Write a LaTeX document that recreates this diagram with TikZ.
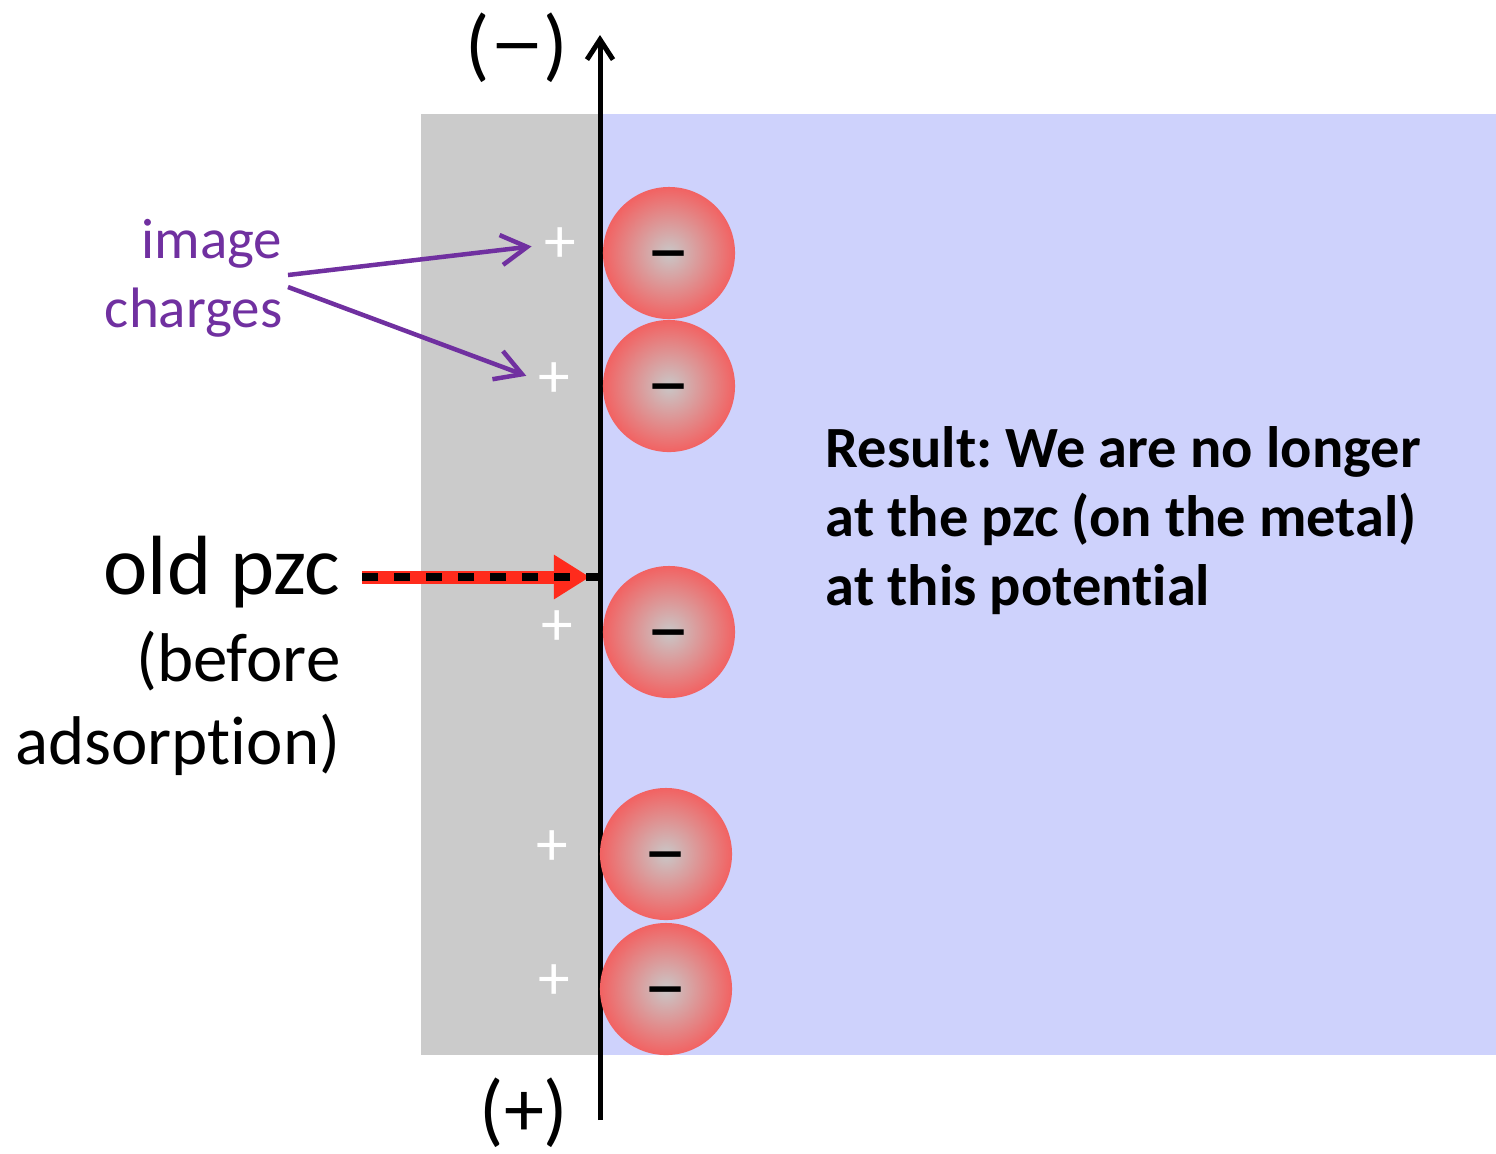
\documentclass[tikz,border=0pt]{standalone}
\usepackage{fontspec}
\setmainfont[Ligatures={NoCommon,NoRare,NoContextual}, Contextuals=NoAlternate]{Carlito}
\frenchspacing
\usetikzlibrary{arrows.meta}
\definecolor{metal}{HTML}{CBCBCB}
\definecolor{sol}{HTML}{CED2FC}
\definecolor{viola}{HTML}{7030A0}
\definecolor{rosso}{HTML}{FF2B1C}
\definecolor{ione}{HTML}{F26262}
\definecolor{nucleo}{HTML}{C9C7C7}
\newcommand{\lungo}{\scalebox{1.35}[1]{−}}

\begin{document}
\begin{tikzpicture}[x=0.01cm, y=-0.01cm,
            every node/.style={inner sep=0pt},
            ion/.style={circle, minimum size=1.32cm, inner color=nucleo, outer color=ione},
            imgq/.style={text=white, font=\fontsize{18}{18}\selectfont},
            viola arrow/.style={viola, line width=0.045cm, shorten >=0.12cm,
                -{Straight Barb[length=0.26cm, width=0.3cm]}}]
        % 1 unita = 1 px del riferimento
        \def\xs{600} \def\ytop{114} \def\ybot{1055}
        \useasboundingbox (0,0) rectangle (1496,1153);

        % Metallo e soluzione
        \fill[metal] (421,\ytop) rectangle (\xs,\ybot);
        \fill[sol] (\xs,\ytop) rectangle (1496,\ybot);

        % Asse del potenziale
        \coordinate (bot) at (\xs,1120);
        \coordinate (top) at (\xs,35);
        \draw[line width=0.05cm, -{Straight Barb[length=0.2cm, width=0.26cm]}] (bot) -- (top);
        \node[font=\fontsize{22.8}{26}\selectfont] (neg) at (517,48) {(\lungo)};
        \node[font=\fontsize{22.8}{26}\selectfont] (pos) at (524,1113) {(+)};

        % Ioni adsorbiti e cariche immagine
        \foreach \i/\x/\y/\px/\py in {
                1/669/253/560/245, 2/669/386/554/380, 3/669/632/557/628,
                4/666/854/552/848, 5/666/989/554/982}{
                \node[ion] (s\i) at (\x,\y) {};
                \node[font=\bfseries\fontsize{17}{17}\selectfont, yshift=-2.6pt] at (s\i) {\lungo};
                \node[imgq] (q\i) at (\px,\py) {+};
            }

        % Etichetta cariche immagine
        \node[anchor=east, align=right, text=viola,
            font=\fontsize{16.2}{19.6}\selectfont] (imgtxt) at (283,278) {image\\charges};
        \coordinate (a1) at (288,275);
        \coordinate (a2) at (288,287);
        \draw[viola arrow] (a1) -- (q1.west);
        \draw[viola arrow] (a2) -- (q2.west);

        % Vecchio pzc
        \node[anchor=east, font=\fontsize{23.9}{28}\selectfont] (oldpzc) at (341,572) {old pzc};
        \node[anchor=east, align=right, font=\fontsize{19.6}{23.6}\selectfont]
            (before) at (341,703) {(before\\adsorption)};
        \coordinate (pzc0) at (362,577);
        \coordinate (pzc1) at (\xs,577);
        \draw[rosso, line width=0.13cm, shorten >=0.1cm,
            -{Triangle[length=0.36cm, width=0.42cm]}] (pzc0) -- (pzc1);
        \draw[line width=0.08cm, dash pattern=on 0.16cm off 0.16cm] (pzc0) -- (pzc1);

        % Risultato
        \node[anchor=west, align=left, font=\bfseries\fontsize{16.6}{19.6}\selectfont]
            (result) at (825,521) {Result: We are no longer\\at the pzc (on the metal)\\at this potential};
    \end{tikzpicture}
\end{document}
